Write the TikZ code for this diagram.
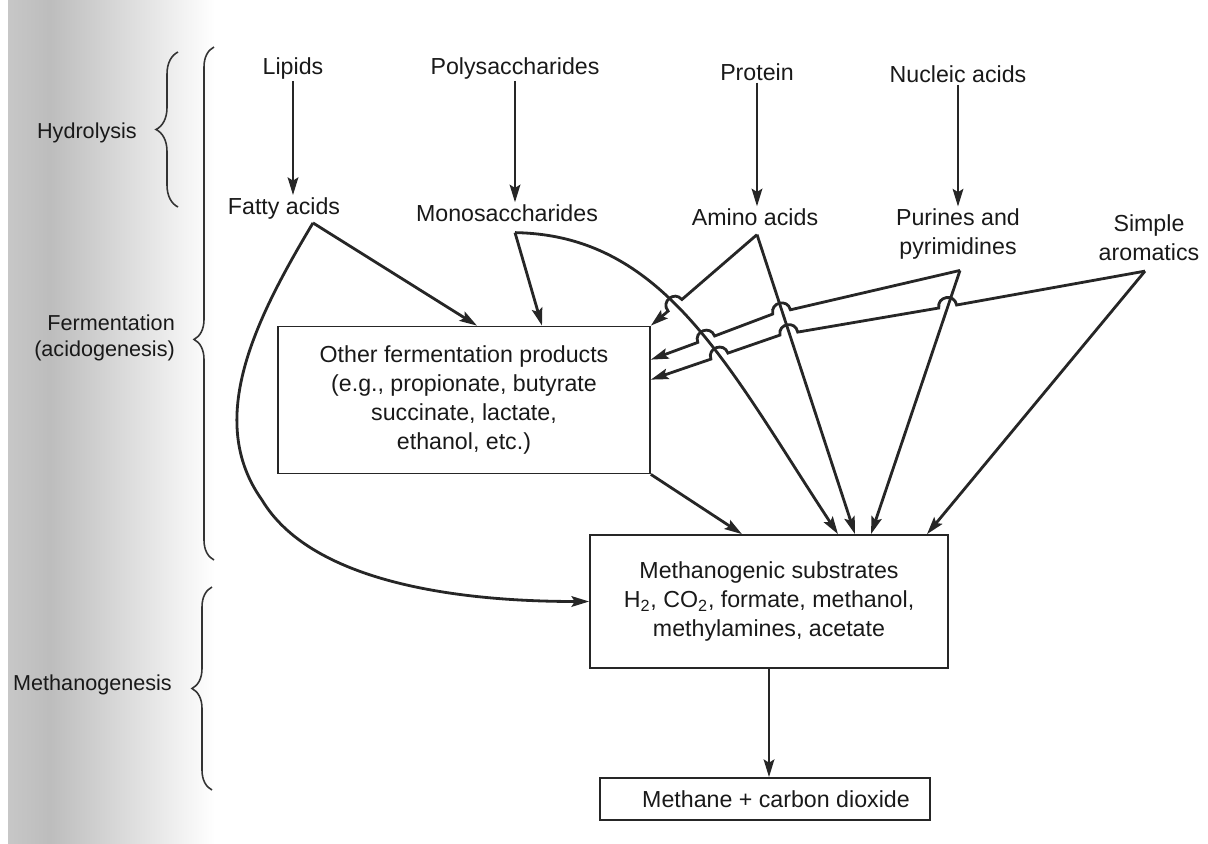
\documentclass[tikz,border=0pt]{standalone}
\usepackage{fontspec}
\setmainfont{Liberation Sans}
\usepackage{tikz}
\usetikzlibrary{positioning}
\usetikzlibrary{calc}
\usetikzlibrary{arrows.meta}
\usetikzlibrary{decorations.pathreplacing}

\tikzset{
	flow/.style={draw=black!85, line width=1.6pt, -{Stealth[length=10pt, width=6pt, inset=1.8pt]}},
	procbox/.style={draw=black!85, line width=1pt, text=black!90, align=center, inner sep=0pt},
	compound/.style={text=black!90, align=center, inner sep=1pt},
	stage/.style={text=black!90, align=right, font=\fontsize{12.3}{14.5}\selectfont},
	stagebrace/.style={draw=black!80, line width=0.9pt, decorate, decoration={brace, amplitude=4mm, #1}},
	stagebrace/.default={}
}

\begin{document}
\begin{tikzpicture}[x=0.02cm, y=-0.02cm, font=\fontsize{13.2}{16.5}\selectfont]
				\useasboundingbox (0,0) rectangle (1208,843);
				%Scan shadow
				\shade[left color=black!22, right color=black!26] (8,0) rectangle (50,843);
				\shade[left color=black!26, right color=white] (50,0) rectangle (215,843);

				%Nodes
				\node[compound] (lip)   at (293,68)  {Lipids};
				\node[compound] (poly)  at (515,68)  {Polysaccharides};
				\node[compound] (prot)  at (757,72)  {Protein};
				\node[compound] (nucl)  at (958,74)  {Nucleic acids};
				\node[compound] (fatty) at (284,208) {Fatty acids};
				\node[compound] (mono)  at (507,213) {Monosaccharides};
				\node[compound] (amino) at (755,217) {Amino acids};
				\node[compound] (purin) at (958,234) {Purines and\\pyrimidines};
				\node[compound] (arom)  at (1149,238) {Simple\\aromatics};
				\node[procbox, minimum width=7.44cm, minimum height=2.94cm] (other) at (464,400)
					{Other fermentation products\\(e.g., propionate, butyrate\\succinate, lactate,\\ethanol, etc.)};
				\node[procbox, minimum width=7.16cm, minimum height=2.66cm] (meth) at (769,601.5)
					{Methanogenic substrates\\H\textsubscript{2}, CO\textsubscript{2}, formate, methanol,\\methylamines, acetate};
				\node[procbox, minimum width=6.6cm, minimum height=0.84cm] (ch4) at (765,799)
					{\hspace*{0.44cm}Methane + carbon dioxide};

				%Stages
				\coordinate (hyd1) at (178,207);
				\coordinate (hyd2) at (178,52);
				\coordinate (fer1) at (214,560);
				\coordinate (fer2) at (214,47);
				\coordinate (men1) at (212,790);
				\coordinate (men2) at (212,587);
				\draw[stagebrace={amplitude=4.4mm}] (hyd1) -- (hyd2);
				\draw[stagebrace={aspect=0.43}] (fer1) -- (fer2);
				\draw[stagebrace] (men1) -- (men2);
				\node[stage, anchor=east] (hydro) at (143,133) {Hydrolysis};
				\node[stage, anchor=east] (ferm)  at (181,338) {Fermentation\\(acidogenesis)};
				\node[stage, anchor=east] (mgen)  at (178,685) {Methanogenesis};

				%Ends
				\coordinate (faout) at ($(fatty.south)+(29,2)$);
				\coordinate (moout) at ($(mono.south)+(8,9)$);
				\coordinate (amout) at ($(amino.south)+(2,7)$);
				\coordinate (puout) at ($(purin.south)+(2,9)$);
				\coordinate (arout) at ($(arom.south)+(-4,8)$);
				\coordinate (fa2other) at ($(other.north)+(13,0)$);
				\coordinate (mo2other) at ($(other.north)+(78,0)$);
				\coordinate (pu2other) at ($(other.north east)+(0,34)$);
				\coordinate (ar2other) at ($(other.north east)+(0,54)$);
				\coordinate (ot2meth) at ($(meth.north)+(-27,0)$);
				\coordinate (mo2meth) at ($(meth.north)+(69,0)$);
				\coordinate (am2meth) at ($(meth.north)+(86,0)$);
				\coordinate (pu2meth) at ($(meth.north)+(102,0)$);
				\coordinate (ar2meth) at ($(meth.north)+(158,0)$);

				%Lines
				\draw[flow] (lip.south) -- (lip.south |- fatty.north);
				\draw[flow] (poly.south) -- (poly.south |- mono.north);
				\draw[flow] (prot.south) -- (prot.south |- amino.north);
				\draw[flow] (nucl.south) -- (nucl.south |- purin.north);
				\draw[flow] (faout) -- (fa2other);
				\draw[flow] (faout) .. controls (255,320) and (205,420) .. (262,500)
					.. controls (310,580) and (450,601.5) .. (meth.west);
				\draw[flow] (moout) -- (mo2other);
				\draw[flow] (moout) .. controls (665,235) and (728,367) .. (mo2meth);
				\draw[flow] (amout) -- (am2meth);
				\draw[flow] (puout) -- (pu2meth);
				\draw[flow] (arout) -- (ar2meth);
				\draw[flow] (other.south east) -- (ot2meth);
				\draw[flow] (meth.south) -- (meth.south |- ch4.north);

				%Lines with hops
				\draw[flow] (amout) -- (681.9,299.5) .. controls +(-7.7,-9.2) and +(-7.7,-9.2) .. (668.1,311.1)
					-- (other.north east);
				\draw[flow] (puout) -- (790.4,309.8) .. controls +(-2.75,-11.68) and +(-2.75,-11.68) .. (772.8,314)
					-- (714.6,336) .. controls +(-4.25,-11.22) and +(-4.25,-11.22) .. (697.8,342.4)
					-- (pu2other);
				\draw[flow] (arout) -- (956.6,305) .. controls +(-2.01,-11.83) and +(-2.01,-11.83) .. (938.8,308)
					-- (797.7,332.1) .. controls +(-2.01,-11.83) and +(-2.01,-11.83) .. (779.9,335.1)
					-- (727.9,353.1) .. controls +(-3.96,-11.33) and +(-3.96,-11.33) .. (710.9,359.1)
					-- (ar2other);

\end{tikzpicture}
\end{document}
